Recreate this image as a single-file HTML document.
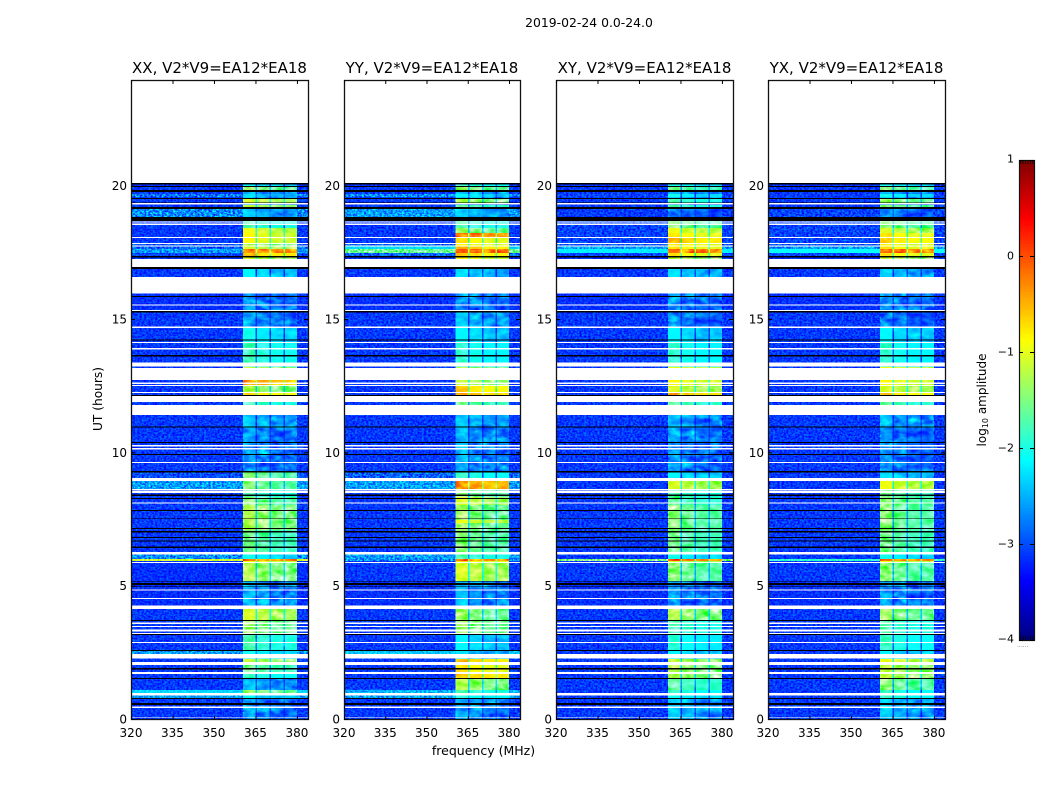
<!DOCTYPE html>
<html>
<head>
<meta charset="utf-8">
<style>
html,body{margin:0;padding:0;background:#fff}
svg{display:block}
text{font-family:"DejaVu Sans","Liberation Sans",sans-serif;fill:#000}
</style>
</head>
<body>
<svg id="fig" xmlns="http://www.w3.org/2000/svg" width="1050" height="800" viewBox="0 0 1050 800">
<defs>
<filter id="speckle" x="0" y="0" width="100%" height="100%" color-interpolation-filters="sRGB">
<feTurbulence type="fractalNoise" baseFrequency="0.45 0.55" numOctaves="2" seed="3"/>
<feColorMatrix type="matrix" values="2.4 0 0 0 -0.7  2.4 0 0 0 -0.7  2.4 0 0 0 -0.7  0 0 0 0 1"/>
</filter>
<filter id="patches" x="0" y="0" width="100%" height="100%" color-interpolation-filters="sRGB">
<feTurbulence type="fractalNoise" baseFrequency="0.1 0.16" numOctaves="3" seed="7"/>
<feColorMatrix type="matrix" values="1.4 0 0 0 -0.2  1.4 0 0 0 -0.2  1.4 0 0 0 -0.2  0 0 0 0 1"/>
</filter>
</defs>
<text x="589" y="27" text-anchor="middle" font-size="12.4">2019-02-24 0.0-24.0</text>
<text x="483.5" y="755" text-anchor="middle" font-size="12.5">frequency (MHz)</text>
<text transform="translate(102,399) rotate(-90)" text-anchor="middle" font-size="12.2">UT (hours)</text>
<text transform="translate(986,400) rotate(-90)" text-anchor="middle" font-size="12">log<tspan font-size="8" dy="2">10</tspan><tspan dy="-2"> amplitude</tspan></text>
<g id="plots"></g>
<g id="cbar"></g>
</svg>
<script>
// Upper edge (UT hours) of each row of constant level; each row ends at the next edge, the last at 0.
const rowTop=[20.12,19.99,19.88,19.73,19.61,19.54,19.39,19.31,19.16,18.86,18.71,18.45,18.26,18.08,17.89,17.75,
17.66,17.51,17.40,17.29,16.99,16.61,16.01,15.34,14.70,14.14,13.24,13.16,12.75,12.53,12.30,12.11,
11.93,11.81,11.44,10.95,9.30,9.08,8.96,8.66,8.36,8.06,7.50,7.39,7.13,6.30,6.20,6.03,
5.96,5.89,5.21,4.28,4.16,3.75,3.23,2.63,2.48,2.29,2.06,1.73,1.54,1.13,1.01,0.83];

// log10 amplitude outside the observing band, per polarisation
const bgXX=[-3.15,-3.1,-3.1,-2.8,-3.1,-3.1,-3.15,-3.1,-2.7,-3.15,-3.1,-3.1,-3.1,-3.1,-3.0,-2.9,
-2.6,-3.05,-3.15,-3.15,-3.1,-3.1,-3.15,-3.1,-3.1,-3.1,-3.1,-3.1,-3.1,-3.1,-3.1,-3.1,
-3.1,-3.1,-3.1,-3.1,-3.0,-3.1,-2.6,-3.1,-3.1,-3.1,-3.1,-3.1,-3.1,-3.1,-2.7,-1.1,
-3.15,-3.15,-3.15,-3.1,-3.1,-3.1,-3.1,-2.6,-3.1,-3.1,-3.1,-3.1,-3.1,-2.3,-2.6,-3.1];
const bgYY=[-3.15,-3.1,-3.1,-2.7,-3.1,-3.1,-3.15,-3.1,-2.6,-3.15,-3.1,-3.1,-3.1,-3.1,-2.9,-2.3,
-1.6,-2.9,-3.15,-3.15,-3.1,-3.1,-3.15,-3.1,-3.1,-3.1,-3.1,-3.1,-3.1,-3.1,-3.1,-3.1,
-3.1,-3.1,-3.1,-3.1,-2.9,-3.1,-2.6,-3.1,-3.1,-3.1,-3.1,-3.1,-3.1,-3.1,-2.6,-2.7,
-3.1,-3.1,-3.15,-3.1,-3.1,-3.1,-3.1,-2.4,-3.1,-3.1,-3.1,-3.1,-3.1,-2.5,-2.6,-3.1];
const bgXY=[-3.15,-3.1,-3.1,-3.05,-3.1,-3.1,-3.15,-3.1,-3.1,-3.15,-3.05,-3.05,-3.05,-3.05,-3.0,-2.6,
-2.2,-3.05,-3.15,-3.15,-3.1,-3.1,-3.15,-3.1,-3.1,-3.1,-3.1,-3.1,-3.1,-3.1,-3.1,-3.1,
-3.1,-3.1,-3.1,-3.1,-3.1,-3.1,-3.1,-3.1,-3.1,-3.1,-3.1,-3.1,-3.1,-3.1,-3.1,-1.5,
-3.1,-3.1,-3.15,-3.1,-3.1,-3.1,-3.1,-3.1,-3.1,-3.1,-3.1,-3.1,-3.1,-3.1,-3.1,-3.1];
const bgYX=[-3.15,-3.1,-3.1,-3.1,-3.1,-3.1,-3.15,-3.1,-3.05,-3.15,-3.05,-3.05,-3.05,-3.05,-3.0,-2.6,
-2.1,-3.05,-3.15,-3.15,-3.1,-3.1,-3.15,-3.1,-3.1,-3.1,-3.1,-3.1,-3.1,-3.1,-3.1,-3.1,
-3.1,-3.1,-3.1,-3.1,-3.1,-3.1,-3.1,-3.1,-3.1,-3.1,-3.1,-3.1,-3.1,-3.1,-3.1,-1.9,
-3.1,-3.1,-3.15,-3.1,-3.1,-3.1,-3.1,-3.1,-3.1,-3.1,-3.1,-3.1,-3.1,-3.1,-3.1,-3.1];

// log10 amplitude inside the 360-380 MHz sub-bands, per polarisation
const bandXX=[-2.3,-1.5,-2.6,-2.4,-2.5,-1.2,-2.8,-1.3,-2.5,-3.0,-1.9,-1.1,-1.0,-1.0,-1.4,-1.2,
-0.3,-0.7,-1.2,-1.2,-2.3,-2.3,-2.75,-2.7,-2.2,-1.95,-1.3,-1.3,-0.5,-1.4,-0.8,-0.8,
-1.9,-1.9,-2.5,-2.75,-1.6,-1.6,-1.6,-1.9,-1.6,-1.4,-1.4,-1.4,-1.7,-1.7,-2.2,-0.3,
-1.0,-1.4,-2.6,-2.6,-1.2,-1.5,-1.9,-2.2,-2.2,-1.3,-1.7,-2.0,-2.6,-1.5,-2.3,-2.7];
const bandYY=[-2.0,-1.5,-2.5,-2.3,-2.5,-1.4,-2.8,-1.8,-2.5,-3.0,-1.9,-1.5,-0.35,-0.9,-1.0,-0.7,
-0.2,-0.75,-1.0,-1.0,-2.4,-2.4,-2.75,-2.5,-2.3,-2.05,-1.4,-1.4,-1.3,-0.8,-0.6,-0.6,
-1.7,-1.7,-2.5,-2.65,-2.0,-2.0,-0.45,-1.6,-1.2,-1.5,-1.1,-1.5,-1.6,-1.6,-1.9,-0.3,
-0.9,-1.2,-2.6,-2.6,-1.5,-1.5,-2.3,-2.4,-2.4,-0.7,-0.9,-0.7,-1.4,-1.9,-2.1,-2.65];
const bandXY=[-2.2,-1.7,-2.6,-2.2,-2.5,-1.9,-2.8,-1.9,-2.9,-3.0,-1.6,-1.1,-0.9,-0.7,-0.9,-0.9,
-0.25,-0.9,-1.3,-1.3,-2.4,-2.4,-2.75,-2.8,-2.3,-2.05,-1.1,-1.1,-1.0,-1.2,-0.6,-0.6,
-1.8,-1.8,-2.6,-2.75,-2.3,-2.3,-1.2,-1.9,-1.8,-1.6,-1.6,-1.6,-1.7,-1.7,-2.2,-0.3,
-1.2,-1.6,-2.75,-2.75,-1.4,-1.9,-2.1,-2.3,-2.3,-1.3,-1.4,-1.4,-1.8,-2.0,-2.2,-2.5];
const bandYX=[-2.2,-1.6,-2.6,-2.2,-2.5,-1.5,-2.8,-1.6,-2.8,-3.0,-1.6,-1.2,-0.9,-0.8,-1.0,-0.9,
-0.25,-0.9,-1.3,-1.3,-2.5,-2.5,-2.75,-2.85,-2.3,-2.05,-1.1,-1.1,-1.0,-1.2,-0.8,-0.8,
-1.8,-1.8,-2.6,-2.8,-2.4,-2.4,-1.1,-1.7,-1.6,-1.6,-1.6,-1.6,-1.7,-1.7,-2.2,-0.3,
-1.1,-1.6,-2.75,-2.75,-1.5,-1.9,-2.0,-2.3,-2.3,-1.1,-1.3,-1.3,-1.6,-2.0,-2.0,-2.5];

// Level change of each sub-band relative to the row's band level
const subbandOffset=[0.15,0,-0.1,-0.1];

// Sub-band frequency edges (MHz)
const subbandLow=[360.5,365.6,370.7,375.7];
const subbandHigh=[365.1,370.1,375.1,380];
const bandEdgeLow=360.5;
const bandEdgeHigh=380;

// Flagged time ranges (UT hours): [upper, lower]; no data drawn as white
const flaggedRanges=[[19.39,19.34],[18.69,18.65],[18.61,18.57],[18.12,18.08],[17.89,17.85],[17.80,17.75],[17.28,16.98],
[16.62,16.00],[15.59,15.55],[15.38,15.33],[14.75,14.70],[14.18,14.13],[13.95,13.90],[13.40,13.25],[13.20,12.75],
[12.65,12.60],[12.56,12.53],[12.30,12.26],[12.15,11.93],[11.82,11.44],[10.31,10.26],[10.20,10.15],[9.68,9.64],
[9.08,8.96],[8.67,8.63],[8.60,8.52],[8.15,8.11],[6.30,6.20],[5.93,5.88],[4.90,4.85],[4.58,4.54],[4.29,4.16],
[3.65,3.60],[3.53,3.48],[3.40,3.31],[3.26,3.23],[2.93,2.89],[2.48,2.30],[2.18,2.07],[1.80,1.73],[1.01,0.92],
[0.50,0.45],[0.12,0.09]];

// Zero-amplitude time ranges (UT hours): drawn black
const zeroRanges=[[20.14,20.08],[20.03,19.99],[19.88,19.80],[19.58,19.54],[19.41,19.39],[19.24,19.16],[18.86,18.71],
[17.40,17.35],[16.98,16.92],[15.90,15.86],[15.33,15.29],[14.27,14.23],[13.68,13.64],[12.19,12.15],[11.00,10.96],
[10.43,10.39],[9.98,9.93],[9.33,9.29],[8.45,8.40],[8.33,8.29],[7.88,7.84],[7.56,7.54],[7.20,7.16],[7.08,7.04],
[6.87,6.83],[6.74,6.69],[6.50,6.45],[5.22,5.19],[5.13,5.07],[5.01,4.98],[3.75,3.71],[3.23,3.18],[2.63,2.59],
[1.95,1.90],[1.58,1.53],[0.83,0.78],[0.63,0.57]];

const panelTitles=["XX, V2*V9=EA12*EA18","YY, V2*V9=EA12*EA18","XY, V2*V9=EA12*EA18","YX, V2*V9=EA12*EA18"];
const panelNames=["xx","yy","xy","yx"];
const bgSeries=[bgXX,bgYY,bgXY,bgYX];
const bandSeries=[bandXX,bandYY,bandXY,bandYX];
const xTicks=[320,335,350,365,380];
const yTicks=[0,5,10,15,20];
const cbarTicks=[1,0,-1,-2,-3,-4];

const NS="http://www.w3.org/2000/svg";
const panelLeft=[131,344,556,768];
const panelWidths=[177,176,177,177];
const axTop=80,axBottom=720;
const fMin=320,fMax=384,utMax=24,vMin=-4,vMax=1;

function xScale(p,f){return panelLeft[p]+(f-fMin)/(fMax-fMin)*panelWidths[p];}
function yScale(u){return axBottom-u/utMax*(axBottom-axTop);}
function jet(level){
  const v=Math.min(1,Math.max(0,(level-vMin)/(vMax-vMin)));
  const ch=t=>Math.round(255*Math.min(1,Math.max(0,1.5-Math.abs(4*v-t))));
  return "rgb("+ch(3)+","+ch(2)+","+ch(1)+")";
}
function rect(parent,x,y,w,h,fill){
  const r=document.createElementNS(NS,"rect");
  r.setAttribute("x",x);r.setAttribute("y",y);r.setAttribute("width",w);r.setAttribute("height",h);
  r.setAttribute("fill",fill);
  parent.appendChild(r);
  return r;
}
function line(parent,x1,y1,x2,y2,w){
  const l=document.createElementNS(NS,"line");
  l.setAttribute("x1",x1);l.setAttribute("y1",y1);l.setAttribute("x2",x2);l.setAttribute("y2",y2);
  l.setAttribute("stroke","#000");l.setAttribute("stroke-width",w||1);
  parent.appendChild(l);
  return l;
}
function label(parent,x,y,str,size,anchor){
  const t=document.createElementNS(NS,"text");
  t.setAttribute("x",x);t.setAttribute("y",y);t.setAttribute("font-size",size);t.setAttribute("text-anchor",anchor);
  t.textContent=str;
  parent.appendChild(t);
  return t;
}

const plots=document.getElementById("plots");
panelLeft.forEach(function(left,p){
  const panelWidth=panelWidths[p];
  const g=document.createElementNS(NS,"g");
  
  
  plots.appendChild(g);

  const heat=document.createElementNS(NS,"g");
  
  
  heat.setAttribute("shape-rendering","crispEdges");
  g.appendChild(heat);

  rowTop.forEach(function(top,i){
    const bottom=i+1<rowTop.length?rowTop[i+1]:0;
    const y=yScale(top),h=yScale(bottom)-y;
    const bg=rect(heat,left,y,panelWidth,h,jet(bgSeries[p][i]));
    
    
    const lev=bandSeries[p][i];
    const gap=rect(heat,xScale(p,bandEdgeLow),y,xScale(p,bandEdgeHigh)-xScale(p,bandEdgeLow),h,jet(Math.max(bgSeries[p][i],lev-0.9)));
    
    
    subbandLow.forEach(function(lo,s){
      const x0=xScale(p,lo),x1=xScale(p,subbandHigh[s]);
      const c=rect(heat,x0,y,x1-x0,h,jet(lev+subbandOffset[s]));
      
      
    });
  });

  zeroRanges.forEach(function(r){
    const k=rect(heat,left,yScale(r[0]),panelWidth,yScale(r[1])-yScale(r[0]),"#000");
    
    
  });
  flaggedRanges.forEach(function(r){
    const w=rect(heat,left,yScale(r[0]),panelWidth,yScale(r[1])-yScale(r[0]),"#fff");
    
    
  });

  // visual grain only: overlay keeps white and black rows unchanged
  const grainTop=yScale(20.14),grainH=axBottom-grainTop;
  const bandX0=xScale(p,bandEdgeLow),bandX1=xScale(p,bandEdgeHigh);
  const grainLeft=rect(g,left,grainTop,bandX0-left,grainH,"#808080");
  grainLeft.setAttribute("filter","url(#speckle)");
  grainLeft.setAttribute("style","mix-blend-mode:overlay");
  
  
  const grainRight=rect(g,bandX1,grainTop,left+panelWidth-bandX1,grainH,"#808080");
  grainRight.setAttribute("filter","url(#speckle)");
  grainRight.setAttribute("style","mix-blend-mode:overlay");
  
  
  const grainBand=rect(g,bandX0,grainTop,bandX1-bandX0,grainH,"#808080");
  grainBand.setAttribute("filter","url(#patches)");
  grainBand.setAttribute("style","mix-blend-mode:overlay");
  
  

  const frame=rect(g,left+.5,axTop+.5,panelWidth,axBottom-axTop-1,"none");
  frame.setAttribute("stroke","#111");
  frame.setAttribute("stroke-width","1.3");
  
  

  xTicks.forEach(function(f){
    const x=xScale(p,f)+.5;
    const t1=line(g,x,axBottom,x,axBottom-4);
    
    
    const t2=line(g,x,axTop,x,axTop+4);
    
    
    const tl=label(g,x-.5,737,String(f),12,"middle");
    
    
  });
  yTicks.forEach(function(u){
    const y=yScale(u)-.5;
    const t1=line(g,left,y,left+4,y);
    
    
    const t2=line(g,left+panelWidth,y,left+panelWidth-4,y);
    
    
    const tl=label(g,left-4,y+4,String(u),12,"end");
    
    
  });
  const title=label(g,left+panelWidth/2,73,panelTitles[p],15,"middle");
  
  
});

// colour bar
const cbar=document.getElementById("cbar");
const cbX=1019,cbW=15,cbTop=160,cbBottom=640;
const cbSteps=200;
function cbScale(l){return cbBottom-(l-vMin)/(vMax-vMin)*(cbBottom-cbTop);}
const cells=document.createElementNS(NS,"g");
cells.setAttribute("shape-rendering","crispEdges");


cbar.appendChild(cells);
for(let i=0;i<cbSteps;i++){
  const lo=vMin+(vMax-vMin)*i/cbSteps,hi=vMin+(vMax-vMin)*(i+1)/cbSteps;
  const c=rect(cells,cbX,cbScale(hi),cbW,cbScale(lo)-cbScale(hi),jet((lo+hi)/2));
  
  
}
const cbFrame=rect(cbar,cbX+.5,cbTop+.5,cbW,cbBottom-cbTop,"none");
cbFrame.setAttribute("stroke","#111");
cbFrame.setAttribute("stroke-width","1.2");


cbarTicks.forEach(function(v){
  const y=cbScale(v)+.5;
  const a=line(cbar,cbX,y,cbX+4,y);
  
  
  const b=line(cbar,cbX+cbW,y,cbX+cbW-4,y);
  
  
  const s=v<0?"\u2212"+(-v):String(v);
  const tl=label(cbar,1014,y+(v===1?2:v===-4?2:3),s,11,"end");
  
  
});
[0,1,2,3,4,5].forEach(function(n){
  const x=cbX+1.5+n*2.5;
  const t1=line(cbar,x,cbTop,x,cbTop+4,.7);
  
  
  const t2=line(cbar,x,cbBottom,x,cbBottom-4,.7);
  
  
});
const dots=label(cbar,1017,647,"......",6,"start");
dots.setAttribute("style","fill:#777");


</script>
</body>
</html>
